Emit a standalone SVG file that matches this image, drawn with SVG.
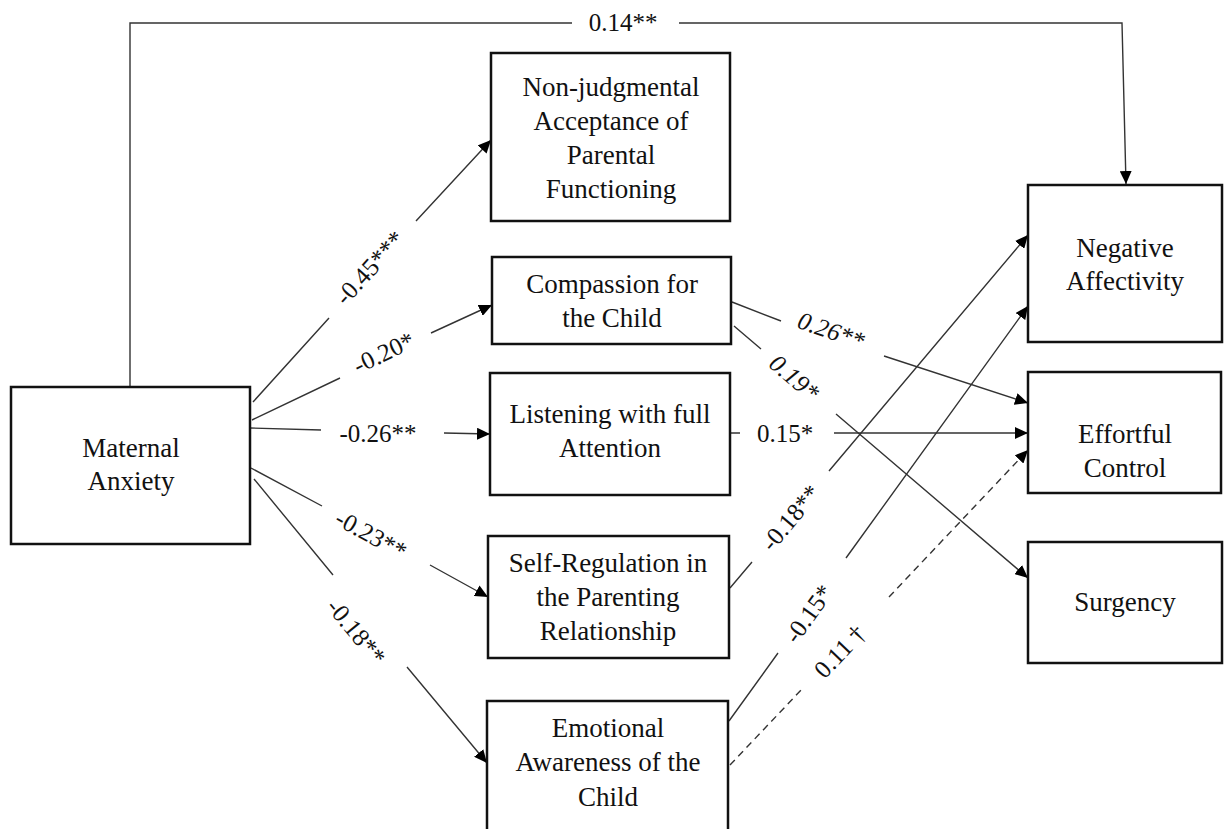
<svg xmlns="http://www.w3.org/2000/svg" width="1227" height="829" viewBox="0 0 1227 829">
<style>
.box{fill:#fff;stroke:#111;stroke-width:2.5}
.nt{font-family:"Liberation Serif","Times New Roman",serif;font-size:27px;fill:#111;text-anchor:middle}
.lb{font-family:"Liberation Serif","Times New Roman",serif;font-size:25px;fill:#111;text-anchor:middle}
.it{font-style:italic}
.c{fill:none;stroke:#333;stroke-width:1.4;marker-end:url(#ah)}
.d{stroke-dasharray:7,5}
</style>
<defs>
<marker id="ah" markerUnits="userSpaceOnUse" markerWidth="13" markerHeight="12" refX="13" refY="6" orient="auto">
<path d="M0,0 L13,6 L0,12 z" fill="#000"/>
</marker>
</defs>
<rect width="1227" height="829" fill="#fff"/>
<g id="connectors">
<path class="c" d="M130,387 L130,23 L572,23 M679,23 L1122,23 L1126,184"/>
<path class="c" d="M253,402 L329,318 M416,221 L491,140"/>
<path class="c" d="M252,420 L340,378 M431,333 L492,305"/>
<path class="c" d="M250,428 L321,430 M444,433 L490,434"/>
<path class="c" d="M251,468 L322,506 M430,565 L488,597"/>
<path class="c" d="M254,479 L333,575 M407,667 L487,763"/>
<path class="c" d="M732,302 L781,321 M884,356 L1028,403"/>
<path class="c" d="M734,326 L761,349 M836,414 L1028,578"/>
<path class="c" d="M730,433 L740,433 M834,433 L1028,433"/>
<path class="c" d="M730,588 L752,562 M829,471 L1028,235"/>
<path class="c" d="M729,721 L778,653 M846,558 L1028,306"/>
<path class="c d" d="M730,765 L802,689 M889,597 L1028,450"/>
<text class="lb" x="623" y="31">0.14**</text>
<text class="lb" transform="translate(370,268) rotate(-47.7)" y="8">-0.45***</text>
<text class="lb" transform="translate(384,353) rotate(-25.6)" y="8">-0.20*</text>
<text class="lb" x="378" y="442">-0.26**</text>
<text class="lb" transform="translate(371,535) rotate(28.6)" y="8">-0.23**</text>
<text class="lb" transform="translate(356,632) rotate(50.6)" y="8">-0.18**</text>
<text class="lb it" transform="translate(831,331) rotate(19)" y="8">0.26**</text>
<text class="lb it" transform="translate(794,378) rotate(40.6)" y="8">0.19*</text>
<text class="lb" x="785" y="442">0.15*</text>
<text class="lb" transform="translate(791,518) rotate(-50)" y="8">-0.18**</text>
<text class="lb" transform="translate(809,614) rotate(-54.4)" y="8">-0.15*</text>
<text class="lb" transform="translate(840,652) rotate(-46.4)" y="8">0.11 †</text>
</g>
<g id="maternal-anxiety">
<rect class="box" x="11" y="387" width="239" height="157"/>
<text class="nt" x="131" y="457">Maternal</text>
<text class="nt" x="131" y="490">Anxiety</text>
</g>
<g id="non-judgmental">
<rect class="box" x="491" y="53" width="239" height="168"/>
<text class="nt" x="611" y="96">Non-judgmental</text>
<text class="nt" x="611" y="130">Acceptance of</text>
<text class="nt" x="611" y="164">Parental</text>
<text class="nt" x="611" y="198">Functioning</text>
</g>
<g id="compassion">
<rect class="box" x="492" y="257" width="239" height="87"/>
<text class="nt" x="612" y="293">Compassion for</text>
<text class="nt" x="612" y="327">the Child</text>
</g>
<g id="listening">
<rect class="box" x="490" y="373" width="240" height="122"/>
<text class="nt" x="610" y="423">Listening with full</text>
<text class="nt" x="610" y="457">Attention</text>
</g>
<g id="self-regulation">
<rect class="box" x="488" y="536" width="241" height="122"/>
<text class="nt" x="608" y="572">Self-Regulation in</text>
<text class="nt" x="608" y="606">the Parenting</text>
<text class="nt" x="608" y="640">Relationship</text>
</g>
<g id="emotional-awareness">
<rect class="box" x="487" y="701" width="241" height="140"/>
<text class="nt" x="608" y="737">Emotional</text>
<text class="nt" x="608" y="771">Awareness of the</text>
<text class="nt" x="608" y="806">Child</text>
</g>
<g id="negative-affectivity">
<rect class="box" x="1028" y="185" width="194" height="157"/>
<text class="nt" x="1125" y="257">Negative</text>
<text class="nt" x="1125" y="290">Affectivity</text>
</g>
<g id="effortful-control">
<rect class="box" x="1028" y="372" width="193" height="121"/>
<text class="nt" x="1125" y="443">Effortful</text>
<text class="nt" x="1125" y="477">Control</text>
</g>
<g id="surgency">
<rect class="box" x="1028" y="542" width="194" height="121"/>
<text class="nt" x="1125" y="611">Surgency</text>
</g>
</svg>
